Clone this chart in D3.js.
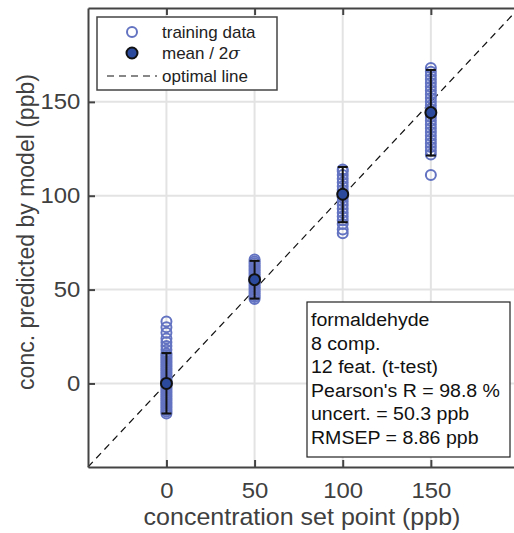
<!DOCTYPE html>
<html>
<head>
<meta charset="utf-8">
<script src="https://cdn.jsdelivr.net/npm/d3@7"></script>
<style>
  body { margin: 0; background: #fff; }
  svg { font-family: "Liberation Sans", Arial, sans-serif; }
</style>
</head>
<body>
<div id="chart-area"></div>
<script>
const W = 514, H = 533
const MARGIN = { LEFT: 88, RIGHT: -5, TOP: 8, BOTTOM: 66 }
// the source figure looks a bit wider than tall, so text gets stretched sideways
const STRETCH = 1.087

// set points and what the model predicted for each training sample
const setPoints = [0, 50, 100, 150]
const pred0 = [-16, -15, -14, -13, -12, -11, -10, -9, -8, -7, -6, -5, -4, -3, -2, -1, 0, 1, 2, 3, 4, 5, 6, 7, 8, 9, 10, 11, 12, 13, 14, 15, 16, 18, 20, 22, 24, 27, 30, 33]
const pred50 = [45, 46, 47, 48, 49, 50, 51, 52, 53, 54, 55, 56, 57, 58, 59, 60, 61, 62, 63, 64, 65, 66]
const pred100 = [80, 82, 85, 87, 89, 91, 93, 95, 97, 99, 101, 103, 105, 107, 109, 111, 113, 114]
const pred150 = [111, 122, 124, 126, 128, 130, 132, 134, 136, 138, 140, 142, 144, 146, 148, 150, 152, 154, 156, 158, 160, 162, 164, 166, 168]
const predictions = [pred0, pred50, pred100, pred150]

// mean and 2 sigma band per set point
const means = [0, 55.3, 100.8, 144.3]
const lowBars = [-16, 45.2, 85.9, 121.4]
const highBars = [16.2, 65.3, 115.3, 167]

const ticks = [0, 50, 100, 150]
const domain = [-44.5, 200]

const infoLines = ["formaldehyde", "8 comp.", "12 feat. (t-test)", "Pearson's R = 98.8 %", "uncert. = 50.3 ppb", "RMSEP = 8.86 ppb"]

const svg = d3.select("#chart-area").append("svg")
  .attr("width", W).attr("height", H)

const x = d3.scaleLinear().domain(domain).range([MARGIN.LEFT, W - MARGIN.RIGHT])
const y = d3.scaleLinear().domain(domain).range([H - MARGIN.BOTTOM, MARGIN.TOP])

const axisColor = "#444"
const blue = "#6373c2"

// grid
svg.append("g").selectAll("line").data(ticks).join("line")
  .attr("x1", d => x(d)).attr("x2", d => x(d))
  .attr("y1", y.range()[0]).attr("y2", y.range()[1])
  .attr("stroke", "#e3e3e3").attr("stroke-width", 2)
svg.append("g").selectAll("line").data(ticks).join("line")
  .attr("y1", d => y(d)).attr("y2", d => y(d))
  .attr("x1", x.range()[0]).attr("x2", x.range()[1])
  .attr("stroke", "#e3e3e3").attr("stroke-width", 2)

// optimal line
svg.append("line")
  .attr("x1", x(domain[0])).attr("y1", y(domain[0]))
  .attr("x2", x(domain[1])).attr("y2", y(domain[1]))
  .attr("stroke", "#111").attr("stroke-width", 1.2)
  .attr("stroke-dasharray", "7,5")

// training data
const flat = []
predictions.forEach((arr, i) => arr.forEach(v => flat.push({ sp: setPoints[i], v: v })))
svg.append("g").selectAll("circle").data(flat).join("circle")
  .attr("cx", d => x(d.sp)).attr("cy", d => y(d.v))
  .attr("r", 5)
  .attr("fill", "none").attr("stroke", blue).attr("stroke-width", 2)

// error bars
const bars = svg.append("g").attr("stroke", "#111").attr("stroke-width", 2)
setPoints.forEach((sp, i) => {
  bars.append("line").attr("x1", x(sp)).attr("x2", x(sp))
    .attr("y1", y(lowBars[i])).attr("y2", y(highBars[i]))
  ;[lowBars[i], highBars[i]].forEach(v => {
    bars.append("line").attr("x1", x(sp) - 5).attr("x2", x(sp) + 5)
      .attr("y1", y(v)).attr("y2", y(v))
  })
})
svg.append("g").selectAll("circle").data(setPoints).join("circle")
  .attr("cx", d => x(d)).attr("cy", (d, i) => y(means[i]))
  .attr("r", 5.5)
  .attr("fill", "#2b4a9e").attr("stroke", "#111").attr("stroke-width", 2)

// axes box
const axG = svg.append("g")
axG.append("g").attr("transform", `translate(0,${y.range()[0]})`)
  .call(d3.axisBottom(x).tickValues(ticks).tickSizeInner(-7).tickSizeOuter(0).tickPadding(15))
axG.append("g").attr("transform", `translate(0,${y.range()[1]})`)
  .call(d3.axisTop(x).tickValues(ticks).tickSizeInner(-7).tickSizeOuter(0).tickFormat(""))
axG.append("g").attr("transform", `translate(${x.range()[0]},0)`)
  .call(d3.axisLeft(y).tickValues(ticks).tickSizeInner(-7).tickSizeOuter(0).tickPadding(7))
axG.selectAll(".domain").attr("stroke", axisColor).attr("stroke-width", 2)
axG.selectAll(".tick line").attr("stroke", axisColor).attr("stroke-width", 2)
axG.selectAll(".tick text").attr("fill", "#404040").attr("font-size", 22)
  .attr("font-family", "Liberation Sans, Arial, sans-serif")
  .attr("transform", `scale(${STRETCH},1)`)

// axis labels
svg.append("text")
  .attr("transform", `translate(302,525) scale(${STRETCH},1)`)
  .attr("text-anchor", "middle").attr("font-size", 23).attr("fill", "#404040")
  .text("concentration set point (ppb)")
svg.append("text")
  .attr("transform", `translate(34,232) rotate(-90)`)
  .attr("text-anchor", "middle").attr("font-size", 23).attr("fill", "#404040")
  .text("conc. predicted by model (ppb)")

// legend
const leg = svg.append("g")
leg.append("rect").attr("x", 97).attr("y", 17).attr("width", 180).attr("height", 73)
  .attr("fill", "#fff").attr("stroke", axisColor).attr("stroke-width", 1.5)
leg.append("circle").attr("cx", 132).attr("cy", 32).attr("r", 5)
  .attr("fill", "none").attr("stroke", blue).attr("stroke-width", 2)
leg.append("circle").attr("cx", 132).attr("cy", 53).attr("r", 5.5)
  .attr("fill", "#2b4a9e").attr("stroke", "#111").attr("stroke-width", 2)
leg.append("line").attr("x1", 107).attr("x2", 157).attr("y1", 76).attr("y2", 76)
  .attr("stroke", "#111").attr("stroke-width", 1.2).attr("stroke-dasharray", "7,5")
const legText = leg.append("g").attr("font-size", 17).attr("fill", "#222")
legText.append("text").attr("x", 162).attr("y", 38).text("training data")
const meanTxt = legText.append("text").attr("x", 162).attr("y", 59)
meanTxt.append("tspan").text("mean / 2")
meanTxt.append("tspan").attr("font-style", "italic").attr("font-family", "DejaVu Serif, serif").text("σ")
legText.append("text").attr("x", 162).attr("y", 82).text("optimal line")

// info box
const info = svg.append("g")
info.append("rect").attr("x", 307).attr("y", 302).attr("width", 203).attr("height", 155)
  .attr("fill", "#fff").attr("stroke", "#222").attr("stroke-width", 1.2)
info.selectAll("text").data(infoLines).join("text")
  .attr("transform", (d, i) => `translate(311,${326 + i * 23.5}) scale(${STRETCH},1)`)
  .attr("font-size", 18).attr("fill", "#111")
  .text(d => d)
</script>
</body>
</html>
